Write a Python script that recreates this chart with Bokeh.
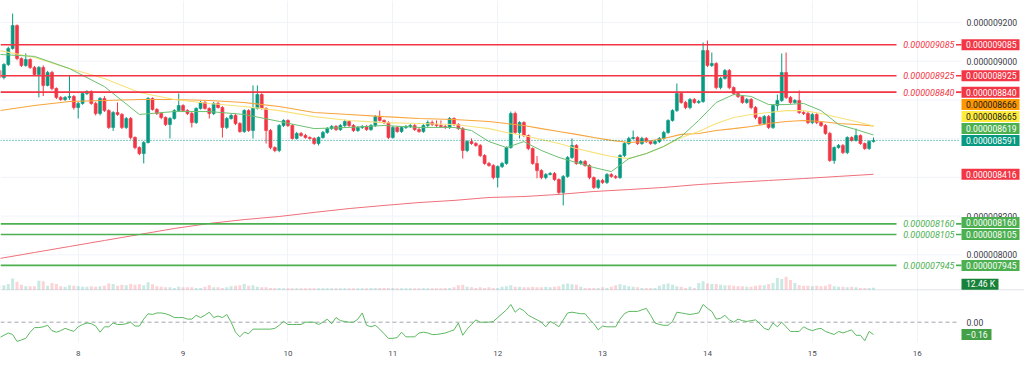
from bokeh.plotting import figure
from bokeh.models import Range1d, FixedTicker, ColumnDataSource
from bokeh.embed import file_html
from bokeh.resources import INLINE
from bokeh.core.properties import value

# ---------------- data (prices in units of 1e-9) ----------------
START_DAY = 7.25          # first hourly candle: day 7, 06:00
first_open = 8952
closes = [
    8916, 8983, 9066, 9184, 9014, 8978, 9009, 8968, 8931, 8968,
    8875, 8942, 8859, 8813, 8802, 8813, 8818, 8761, 8782, 8833,
    8843, 8782, 8730, 8807, 8745, 8658, 8735, 8725, 8658, 8704,
    8606, 8554, 8523, 8580, 8807, 8751, 8730, 8709, 8673, 8704,
    8745, 8771, 8745, 8730, 8683, 8756, 8787, 8756, 8730, 8782,
    8761, 8658, 8704, 8720, 8678, 8637, 8745, 8642, 8756, 8828,
    8756, 8642, 8554, 8539, 8668, 8694, 8668, 8601, 8627, 8616,
    8606, 8601, 8575, 8606, 8632, 8652, 8663, 8647, 8668, 8689,
    8668, 8642, 8658, 8663, 8647, 8668, 8714, 8694, 8683, 8606,
    8658, 8637, 8658, 8663, 8668, 8647, 8637, 8668, 8683, 8673,
    8668, 8663, 8658, 8704, 8673, 8652, 8539, 8585, 8575, 8565,
    8513, 8472, 8461, 8399, 8456, 8472, 8554, 8730, 8632, 8683,
    8616, 8549, 8472, 8435, 8399, 8415, 8420, 8389, 8322, 8405,
    8503, 8565, 8472, 8482, 8461, 8399, 8348, 8384, 8374, 8415,
    8405, 8399, 8513, 8575, 8601, 8606, 8575, 8601, 8585, 8575,
    8585, 8601, 8632, 8694, 8745, 8833, 8787, 8761, 8802, 8787,
    8792, 9055, 8978, 8988, 8864, 8911, 8952, 8864, 8833, 8818,
    8787, 8802, 8761, 8709, 8678, 8714, 8658, 8771, 8797, 8942,
    8813, 8787, 8797, 8735, 8730, 8683, 8725, 8683, 8668, 8627,
    8487, 8554, 8565, 8528, 8606, 8591, 8616, 8575, 8549, 8585,
    8591]
highs = [
    8962, 8990, 9075, 9246, 9190, 9020, 9040, 9015, 8975, 8975,
    8978, 8950, 8950, 8865, 8820, 8820, 8926, 8825, 8790, 8840,
    8850, 8850, 8790, 8815, 8820, 8752, 8742, 8787, 8732, 8712,
    8712, 8612, 8560, 8588, 8815, 8813, 8758, 8738, 8715, 8712,
    8752, 8833, 8778, 8752, 8738, 8762, 8795, 8795, 8762, 8790,
    8790, 8768, 8712, 8728, 8728, 8685, 8752, 8752, 8875, 8875,
    8835, 8762, 8650, 8560, 8675, 8700, 8700, 8675, 8635, 8635,
    8625, 8612, 8608, 8612, 8640, 8660, 8670, 8670, 8675, 8698,
    8695, 8675, 8665, 8670, 8670, 8675, 8722, 8745, 8700, 8690,
    8665, 8665, 8665, 8670, 8675, 8675, 8655, 8675, 8694, 8694,
    8694, 8694, 8670, 8712, 8710, 8680, 8660, 8592, 8601, 8582,
    8572, 8520, 8480, 8468, 8462, 8480, 8560, 8740, 8740, 8690,
    8690, 8622, 8555, 8510, 8442, 8422, 8428, 8428, 8395, 8412,
    8510, 8601, 8572, 8490, 8490, 8468, 8405, 8392, 8392, 8422,
    8422, 8412, 8520, 8582, 8610, 8642, 8612, 8610, 8608, 8592,
    8592, 8608, 8640, 8700, 8752, 8885, 8840, 8795, 8810, 8810,
    8800, 9097, 9107, 9045, 8995, 8918, 8960, 8960, 8870, 8840,
    8825, 8810, 8810, 8768, 8715, 8722, 8722, 8778, 8828, 9040,
    9045, 8820, 8805, 8849, 8742, 8738, 8732, 8732, 8690, 8675,
    8635, 8560, 8572, 8572, 8612, 8612, 8652, 8622, 8580, 8592,
    8606]
lows = [
    8906, 8906, 8975, 9060, 9005, 8970, 8972, 8960, 8925, 8813,
    8820, 8870, 8850, 8805, 8795, 8795, 8800, 8750, 8704, 8775,
    8825, 8775, 8720, 8720, 8738, 8650, 8640, 8718, 8650, 8650,
    8596, 8545, 8515, 8472, 8575, 8745, 8722, 8700, 8665, 8601,
    8698, 8738, 8738, 8722, 8658, 8676, 8750, 8750, 8704, 8722,
    8755, 8606, 8650, 8698, 8670, 8630, 8630, 8635, 8601, 8750,
    8750, 8575, 8545, 8530, 8530, 8660, 8660, 8595, 8595, 8610,
    8600, 8595, 8568, 8565, 8600, 8625, 8645, 8640, 8640, 8660,
    8660, 8635, 8635, 8650, 8640, 8640, 8660, 8688, 8675, 8598,
    8600, 8630, 8630, 8650, 8655, 8640, 8630, 8630, 8660, 8665,
    8660, 8655, 8650, 8650, 8665, 8645, 8497, 8530, 8568, 8558,
    8505, 8465, 8455, 8390, 8348, 8448, 8465, 8548, 8625, 8601,
    8608, 8540, 8465, 8395, 8390, 8390, 8410, 8382, 8312, 8255,
    8398, 8495, 8465, 8465, 8455, 8390, 8340, 8340, 8366, 8366,
    8398, 8392, 8392, 8505, 8568, 8595, 8568, 8568, 8578, 8568,
    8568, 8578, 8595, 8625, 8688, 8738, 8780, 8752, 8752, 8780,
    8780, 8785, 8970, 8970, 8855, 8855, 8905, 8855, 8825, 8810,
    8780, 8780, 8752, 8700, 8670, 8670, 8650, 8650, 8745, 8790,
    8805, 8780, 8780, 8728, 8722, 8675, 8675, 8675, 8660, 8620,
    8480, 8470, 8548, 8520, 8520, 8585, 8585, 8568, 8542, 8542,
    8580]
volumes_k = [
    31, 28, 37, 71, 50, 31, 22, 22, 22, 56,
    53, 25, 43, 37, 22, 19, 28, 25, 22, 19,
    19, 22, 19, 22, 25, 40, 37, 25, 31, 28,
    37, 31, 34, 28, 47, 34, 22, 19, 16, 16,
    12, 19, 16, 16, 16, 12, 12, 19, 28, 16,
    16, 12, 16, 22, 25, 28, 37, 25, 28, 19,
    16, 16, 12, 12, 12, 9, 9, 9, 9, 9,
    9, 9, 9, 9, 9, 9, 9, 9, 9, 9,
    9, 9, 9, 9, 9, 12, 12, 12, 12, 12,
    12, 9, 9, 9, 9, 9, 9, 9, 9, 9,
    9, 9, 12, 12, 16, 28, 31, 19, 16, 12,
    16, 12, 16, 12, 12, 19, 22, 28, 19, 19,
    16, 16, 19, 16, 16, 19, 16, 19, 22, 34,
    40, 34, 31, 19, 12, 12, 12, 12, 16, 12,
    19, 28, 34, 28, 22, 19, 16, 12, 12, 12,
    12, 25, 34, 40, 31, 22, 19, 12, 19, 12,
    43, 53, 40, 37, 37, 31, 28, 28, 25, 22,
    22, 19, 19, 25, 28, 28, 37, 43, 74, 68,
    81, 62, 43, 28, 25, 25, 22, 25, 22, 25,
    34, 22, 19, 19, 16, 19, 16, 12, 12, 12,
    12.46]
osc = [
    -0.20, -0.17, -0.14, -0.16, -0.25, -0.23, -0.21, -0.13, -0.07, -0.07,
    -0.06, -0.04, -0.11, -0.13, -0.11, -0.08, -0.10, -0.12, -0.06, -0.03,
    -0.01, -0.02, -0.05, -0.13, -0.06, -0.06, -0.01, -0.03, -0.03, -0.02,
    0.00, -0.05, -0.05, 0.04, 0.11, 0.10, 0.12, 0.12, 0.11, 0.09,
    0.06, 0.06, 0.06, 0.04, 0.04, 0.09, 0.06, 0.09, 0.13, 0.06,
    0.08, 0.06, 0.10, 0.00, -0.13, -0.19, -0.13, -0.15, -0.09, -0.09,
    -0.09, -0.09, -0.09, -0.08, -0.04, 0.01, -0.03, -0.03, -0.03, -0.03,
    0.00, 0.00, 0.00, -0.03, 0.00, 0.04, -0.02, 0.06, 0.02, 0.01,
    0.00, 0.00, 0.04, 0.12, -0.04, -0.06, -0.04, -0.09, -0.15, -0.21,
    -0.21, -0.20, -0.13, -0.19, -0.19, -0.19, -0.14, -0.13, -0.14, -0.16,
    -0.16, -0.15, -0.14, -0.12, -0.10, -0.01, -0.17, -0.09, -0.03, 0.03,
    0.00, 0.00, 0.00, 0.01, 0.06, 0.11, 0.16, 0.23, 0.13, 0.18,
    0.15, 0.09, 0.06, 0.03, 0.00, -0.06, 0.01, -0.02, -0.06, 0.03,
    0.12, 0.13, 0.12, 0.11, 0.11, 0.04, -0.02, -0.10, -0.05, -0.06,
    -0.06, -0.06, 0.04, 0.11, 0.14, 0.14, 0.14, 0.16, 0.18, 0.09,
    -0.01, -0.03, -0.04, -0.04, 0.01, 0.13, 0.12, 0.11, 0.10, 0.11,
    0.12, 0.23, 0.18, 0.14, 0.04, 0.05, 0.09, 0.03, 0.00, 0.04,
    0.02, 0.01, 0.02, 0.03, -0.02, -0.08, -0.10, -0.01, -0.06, 0.00,
    -0.06, -0.12, -0.12, -0.12, -0.06, -0.09, -0.11, -0.09, -0.08, -0.12,
    -0.14, -0.16, -0.12, -0.14, -0.12, -0.10, -0.17, -0.17, -0.24, -0.12,
    -0.16]
ma_idx = [0, 8, 16, 24, 32, 40, 48, 56, 64, 72, 80, 88, 96, 104,
          108, 112, 116, 120, 124, 128, 132, 136, 140, 144, 148, 152,
          156, 160, 164, 168, 172, 176, 180, 184, 188, 192, 196, 200]
ma_fast = [9035, 9025, 8962, 8869, 8725, 8740, 8740, 8725, 8689, 8652, 8658, 8668, 8658, 8658,
           8642, 8585, 8554, 8585, 8539, 8503, 8477, 8451, 8430, 8497, 8523, 8560,
           8611, 8694, 8787, 8828, 8818, 8776, 8776, 8782, 8745, 8673, 8647, 8619]
ma_mid = [9055, 9019, 8962, 8911, 8838, 8802, 8782, 8766, 8745, 8714, 8694, 8683, 8678, 8673,
          8663, 8652, 8632, 8616, 8596, 8575, 8549, 8528, 8508, 8497, 8523, 8560,
          8606, 8637, 8678, 8709, 8725, 8735, 8745, 8745, 8730, 8709, 8689, 8665]
ma_slow = [8745, 8771, 8792, 8797, 8802, 8802, 8797, 8787, 8766, 8735, 8725, 8714, 8704, 8699,
           8694, 8689, 8678, 8668, 8652, 8637, 8622, 8606, 8591, 8580, 8585, 8601,
           8622, 8627, 8642, 8652, 8663, 8678, 8689, 8694, 8689, 8678, 8673, 8666]
ma_long_idx = list(range(0, 201, 8))
ma_long = [7981, 8012, 8043, 8074, 8105, 8136, 8162, 8182, 8198, 8219, 8239, 8255, 8270,
           8281, 8296, 8301, 8312, 8327, 8337, 8348, 8363, 8374, 8384, 8394, 8405, 8416]
resistance = [9085, 8925, 8840]
support = [8160, 8105, 7945]
scale_ticks = [8000, 8200, 9000, 9200]
grid_ticks = [8000, 8200, 8400, 8600, 8800, 9000, 9200]
day_ticks = [8, 9, 10, 11, 12, 13, 14, 15, 16]
volume_tag = "12.46 K"
osc_zero_label = "0.00"

# ---------------- layout helpers (page-pixel geometry) ----------------
FL, FR, FT, FB = 0.0, 1024.0, 0.0, 342.0
DAY8_X, PX_PER_DAY = 77.7, 104.875
def day_at(X): return 8 + (X - DAY8_X) / PX_PER_DAY
P_REF_Y, P_REF, PX_PER_UNIT = 22.0, 9200.0, 0.1936
def price_at(Y): return P_REF - (Y - P_REF_Y) / PX_PER_UNIT
def y_of_price(v): return P_REF_Y + (P_REF - v) * PX_PER_UNIT
VOL_BASE_Y, PX_PER_K = 289.3, 0.16
def vol_at(Y): return (VOL_BASE_Y - Y) / PX_PER_K
OSC_ZERO_Y, PX_PER_OSC = 321.7, 77.0
def osc_at(Y): return (OSC_ZERO_Y - Y) / PX_PER_OSC

FONT = value("Roboto")
UP, DOWN = "#089981", "#f23645"
RED, GREEN, TEAL = "#f23645", "#4caf50", "#089981"

p = figure(width=1024, height=366, output_backend="svg", toolbar_location=None,
           x_range=Range1d(day_at(FL), day_at(FR)),
           y_range=Range1d(price_at(FB), price_at(FT)),
           y_axis_location=None, min_border=0, min_border_bottom=24,
           outline_line_color=None,
           background_fill_color="white", border_fill_color="white")
p.extra_y_ranges = {"vol": Range1d(vol_at(FB), vol_at(FT)),
                    "osc": Range1d(osc_at(FB), osc_at(FT))}

ax = p.xaxis[0]
ax.ticker = FixedTicker(ticks=day_ticks)
ax.major_label_overrides = {d: str(d) for d in day_ticks}
ax.axis_line_color = None
ax.major_tick_line_color = None
ax.minor_tick_line_color = None
ax.major_label_text_font = "Roboto"
ax.major_label_text_font_size = "8px"
ax.major_label_text_color = "#4a4d57"
ax.major_label_standoff = 2
p.xgrid.ticker = FixedTicker(ticks=day_ticks)
p.xgrid.grid_line_color = "#f0f3fa"
for g in p.ygrid:
    g.visible = False

x_left, x_scale = day_at(0), day_at(961)
# horizontal grid
p.segment(x0=[x_left] * len(grid_ticks), x1=[x_scale] * len(grid_ticks),
          y0=grid_ticks, y1=grid_ticks, line_color="#f0f3fa", line_width=1)
# pane separator
p.segment(x0=[x_left], x1=[day_at(1030)], y0=[0], y1=[0], y_range_name="vol",
          line_color="#e0e3eb", line_width=1)

# ---------------- candles ----------------
n = len(closes)
opens = [first_open] + closes[:-1]
xs = [START_DAY + i / 24 for i in range(n)]
cols = [UP if c >= o else DOWN for o, c in zip(opens, closes)]
src = ColumnDataSource(dict(x=xs, o=opens, c=closes, h=highs, l=lows, col=cols,
                            v=volumes_k))
BAR_W = 0.68 / 24
p.vbar(x="x", width=BAR_W, top="v", bottom=0, fill_color="col", fill_alpha=0.22,
       line_color=None, y_range_name="vol", source=src)
p.segment(x0="x", y0="h", x1="x", y1="l", line_color="col", line_width=1, source=src)
p.vbar(x="x", width=BAR_W, top="o", bottom="c", fill_color="col", line_color="col",
       line_width=0.6, source=src)

# ---------------- moving averages ----------------
mx = [START_DAY + i / 24 for i in ma_idx]
p.line(mx, ma_slow, line_color="#f7a53c", line_width=1.1)
p.line(mx, ma_mid, line_color="#f7e27a", line_width=1.1)
p.line(mx, ma_fast, line_color="#6cc070", line_width=1.0)
p.line([START_DAY + i / 24 for i in ma_long_idx], ma_long, line_color="#f0707a", line_width=1.0)

# ---------------- oscillator ----------------
p.segment(x0=[x_left], x1=[day_at(958)], y0=[0], y1=[0], y_range_name="osc",
          line_color="#a3a6af", line_width=1, line_dash="4 3")
p.line([START_DAY + i / 24 for i in range(len(osc))], osc, y_range_name="osc",
       line_color="#5cb860", line_width=1.0)

# ---------------- current price line ----------------
last_price = closes[-1]
p.segment(x0=[x_left], x1=[day_at(960)], y0=[last_price], y1=[last_price],
          line_color=TEAL, line_width=1, line_dash="1 2")

# ---------------- horizontal levels ----------------
levels = resistance + support
lcols = [RED] * len(resistance) + [GREEN] * len(support)
m = len(levels)
p.segment(x0=[x_left] * m, x1=[day_at(896)] * m, y0=levels, y1=levels,
          line_color=lcols, line_width=1.7)
p.segment(x0=[day_at(955.5)] * m, x1=[x_scale] * m, y0=levels, y1=levels,
          line_color=lcols, line_width=1.7)
p.text(x=[day_at(954)] * m, y=levels, text=[f"{v / 1e9:.9f}" for v in levels],
       text_color=lcols, text_font=FONT, text_font_size="9px",
       text_font_style="italic", text_align="right", text_baseline="middle")

# ---------------- price scale labels ----------------
p.text(x=[day_at(966)] * len(scale_ticks), y=scale_ticks,
       text=[f"{v / 1e9:.9f}" for v in scale_ticks], text_color="#3a3d47",
       text_font=FONT, text_font_size="8.6px", text_align="left", text_baseline="middle")
p.text(x=[day_at(966)], y=[0], text=[osc_zero_label], y_range_name="osc",
       text_color="#3a3d47", text_font=FONT, text_font_size="8.6px",
       text_align="left", text_baseline="middle")

# tags (stacked so they do not overlap, like the price scale does)
tags = [(v, RED, "white") for v in resistance] + [(v, GREEN, "white") for v in support]
tags += [(ma_slow[-1], "#ff9800", "#131722"), (ma_mid[-1], "#ffeb3b", "#131722"),
         (ma_fast[-1], GREEN, "white"), (last_price, TEAL, "white"),
         (ma_long[-1], RED, "white")]
tags.sort(key=lambda t: t[0])
STEP, BOX_H = 12.0, 11.0
placed = []
prev = None
for v, fc, tc in tags:
    yc = y_of_price(v)
    if prev is not None and yc > prev - STEP:
        yc = prev - STEP
    placed.append((v, yc, fc, tc, f"{v / 1e9:.9f}", 1019.0))
    prev = yc
# volume and oscillator tags
vy = min(VOL_BASE_Y - volumes_k[-1] * PX_PER_K, VOL_BASE_Y - BOX_H / 2)
placed.append((None, vy, "#17823a", "white", volume_tag, 998.0))
oy = OSC_ZERO_Y - osc[-1] * PX_PER_OSC
placed.append((None, oy, "#43a047", "white", f"{osc[-1]:.2f}".replace("-", "\u2212"), 991.0))

tsrc = ColumnDataSource(dict(
    left=[day_at(961)] * len(placed),
    right=[day_at(t[5]) for t in placed],
    top=[price_at(t[1] - BOX_H / 2) for t in placed],
    bottom=[price_at(t[1] + BOX_H / 2) for t in placed],
    ty=[price_at(t[1]) for t in placed],
    tx=[day_at(965.5)] * len(placed),
    fill=[t[2] for t in placed],
    tcol=[t[3] for t in placed],
    label=[t[4] for t in placed]))
p.quad(left="left", right="right", top="top", bottom="bottom", fill_color="fill",
       line_color=None, source=tsrc)
p.text(x="tx", y="ty", text="label", text_color="tcol", text_font=FONT,
       text_font_size="8.6px", text_align="left", text_baseline="middle", source=tsrc)

open("out.html", "w").write(file_html(p, INLINE))
